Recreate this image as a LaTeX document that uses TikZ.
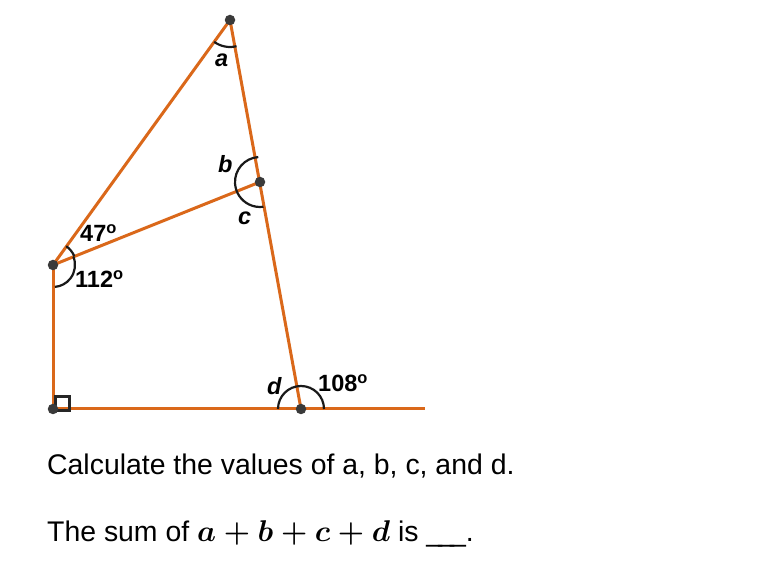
\RequirePackage{fix-cm}
\documentclass[tikz,border=0pt]{standalone}
\usepackage{amsmath}
\usepackage{amssymb}
\usepackage[no-math]{fontspec}
\setmainfont{Liberation Sans}
\usepackage{tikz}

\definecolor{edge}{RGB}{218,104,26}
\definecolor{dotgray}{RGB}{58,58,58}

\begin{document}
\begin{tikzpicture}[x=1pt, y=1pt,
		side/.style={edge, line width=3pt},
		angarc/.style={black!90, line width=2.2pt},
		lbl/.style={anchor=base west, inner sep=0pt, font=\fontsize{23.5}{26}\selectfont\bfseries},
		txt/.style={anchor=base west, inner sep=0pt, font=\fontsize{28.4}{33}\selectfont},
		pt/.style={circle, fill=dotgray, inner sep=0pt, minimum size=10.5pt}]
		\useasboundingbox (0,0) rectangle (784,570);
		\coordinate (T) at (230,550);
		\coordinate (M) at (260,388);
		\coordinate (L) at (53,305);
		\coordinate (P) at (53,161);
		\coordinate (D) at (301,161);
		\coordinate (E) at (425,161);
		\draw[side] (L) -- (T) -- (D);
		\draw[side] (L) -- (M);
		\draw[side] (L) -- (P) -- (E);
		\draw[angarc] ([shift={(234:27)}]T) arc[start angle=234, end angle=284, radius=27];
		\draw[angarc] ([shift={(94:25)}]M) arc[start angle=94, end angle=278, radius=25];
		\draw[angarc] ([shift={(55:23)}]L) arc[start angle=55, end angle=22, radius=23];
		\draw[angarc] ([shift={(22:22)}]L) arc[start angle=22, end angle=-85, radius=22];
		\draw[angarc] ([shift={(0:23)}]D) arc[start angle=0, end angle=180, radius=23];
		\draw[black!85, line width=3pt] ([shift={(2.5,-1.5)}]P) rectangle ++(14,14);
		\node[pt] (t) at (T) {};
		\node[pt] (m) at (M) {};
		\node[pt] (l) at (L) {};
		\node[pt] (p) at (P) {};
		\node[pt] (d) at (D) {};
		\node[lbl] (la) at (215,503) {\itshape a};
		\node[lbl] (lb) at (218,397) {\itshape b};
		\node[lbl] (lc) at (238,345) {\itshape c};
		\node[lbl] (ld) at (267,175) {\itshape d};
		\node[lbl] (l47) at (80,328) {47\textsuperscript{o}};
		\node[lbl] (l112) at (75,282) {112\textsuperscript{o}};
		\node[lbl] (l108) at (318,178) {108\textsuperscript{o}};
		\node[txt] (q1) at (47,95) {Calculate the values of a, b, c, and d.};
		\node[txt] (q2) at (47,28) {The sum of {\fontsize{30}{33}\selectfont$\boldsymbol{a+b+c+d}$} is \_\kern-4pt\_\kern-4pt\_.};
		\end{tikzpicture}
\end{document}
